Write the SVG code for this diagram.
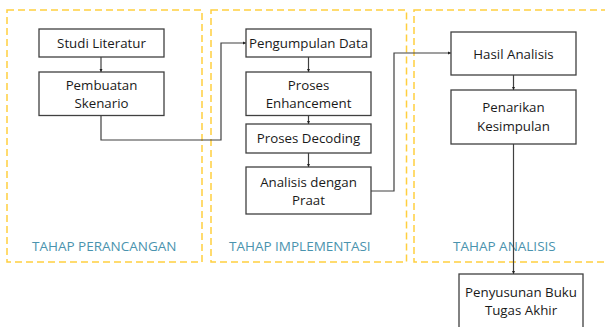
<svg xmlns="http://www.w3.org/2000/svg" width="605" height="327" viewBox="0 0 605 327">
  <style>
    .phase { fill: none; stroke: #FFCF3F; stroke-width: 1.5; stroke-dasharray: 7 4; }
    .phase-label { font-family: "Open Sans", "Liberation Sans", sans-serif; font-size: 13.5px; fill: #4A93AE; }
    .box { fill: #FFFFFF; stroke: #404040; stroke-width: 1.3; }
    .label { font-family: "Open Sans", "Liberation Sans", sans-serif; font-size: 13.3px; fill: #1A1A1A; text-anchor: middle; }
    .link { fill: none; stroke: #404040; stroke-width: 1.2; marker-end: url(#head); }
  </style>
  <defs>
    <marker id="head" viewBox="0 0 6 6" refX="6" refY="3" markerWidth="3.5" markerHeight="3.5" orient="auto" markerUnits="userSpaceOnUse">
      <path d="M0,0 L6,3 L0,6 Z" fill="#202020"/>
    </marker>
  </defs>
  <rect width="605" height="327" fill="#FFFFFF"/>

  <!-- phase frames -->
  <g id="phase-perancangan">
    <rect class="phase" x="7" y="10" width="195" height="252"/>
    <text class="phase-label" x="32" y="251">TAHAP PERANCANGAN</text>
  </g>
  <g id="phase-implementasi">
    <rect class="phase" x="211" y="10" width="195.5" height="252"/>
    <text class="phase-label" x="229" y="251">TAHAP IMPLEMENTASI</text>
  </g>
  <g id="phase-analisis">
    <rect class="phase" x="414" y="10" width="200" height="252"/>
    <text class="phase-label" x="453" y="251">TAHAP ANALISIS</text>
  </g>

  <!-- connectors -->
  <g id="connectors">
    <path class="link" d="M101,57 V72"/>
    <path class="link" d="M101,115.5 V140 H221 V43 H246"/>
    <path class="link" d="M308.5,57 V72"/>
    <path class="link" d="M308.5,115.5 V124"/>
    <path class="link" d="M308.5,153 V167"/>
    <path class="link" d="M371,191 H394 V53 H451"/>
    <path class="link" d="M513.5,75 V90"/>
    <path class="link" d="M513.5,144 V274"/>
  </g>

  <!-- planning -->
  <g id="studi-literatur">
    <rect class="box" x="39" y="29" width="125" height="28"/>
    <text class="label" x="101.5" y="48">Studi Literatur</text>
  </g>
  <g id="pembuatan-skenario">
    <rect class="box" x="39" y="72" width="125" height="43.5"/>
    <text class="label" x="101.5" y="89.5">Pembuatan</text>
    <text class="label" x="101.5" y="108">Skenario</text>
  </g>

  <!-- implementation -->
  <g id="pengumpulan-data">
    <rect class="box" x="246" y="29" width="125" height="28"/>
    <text class="label" x="308.5" y="48">Pengumpulan Data</text>
  </g>
  <g id="proses-enhancement">
    <rect class="box" x="246" y="72" width="125" height="43.5"/>
    <text class="label" x="308.5" y="89.5">Proses</text>
    <text class="label" x="308.5" y="108">Enhancement</text>
  </g>
  <g id="proses-decoding">
    <rect class="box" x="246" y="124" width="125" height="29"/>
    <text class="label" x="308.5" y="143">Proses Decoding</text>
  </g>
  <g id="analisis-praat">
    <rect class="box" x="246" y="167" width="125" height="47"/>
    <text class="label" x="308.5" y="186.5">Analisis dengan</text>
    <text class="label" x="308.5" y="205">Praat</text>
  </g>

  <!-- analysis -->
  <g id="hasil-analisis">
    <rect class="box" x="451" y="32" width="125" height="43"/>
    <text class="label" x="513.5" y="58.5">Hasil Analisis</text>
  </g>
  <g id="penarikan-kesimpulan">
    <rect class="box" x="451" y="90" width="125" height="54"/>
    <text class="label" x="513.5" y="112">Penarikan</text>
    <text class="label" x="513.5" y="131">Kesimpulan</text>
  </g>
  <g id="penyusunan-buku">
    <rect class="box" x="459" y="274" width="124" height="60"/>
    <text class="label" x="521" y="296.5">Penyusunan Buku</text>
    <text class="label" x="521" y="315">Tugas Akhir</text>
  </g>
</svg>
